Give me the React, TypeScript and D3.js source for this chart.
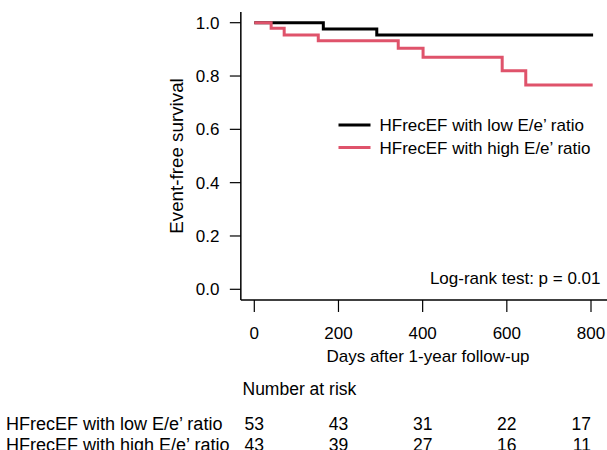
import React from "react";
import * as d3 from "d3";

const lowTimes = [0, 164, 291];
const lowSurv = [1, 0.976, 0.954];
const lowEnd = 805;
const highTimes = [0, 40, 71, 152, 342, 401, 589, 645];
const highSurv = [1, 0.979, 0.954, 0.932, 0.904, 0.87, 0.82, 0.766];
const highEnd = 804;

const xTicks = [0, 200, 400, 600, 800];
const yTicks = [0, 0.2, 0.4, 0.6, 0.8, 1.0];
const seriesNames = ["HFrecEF with low E/e\u2019 ratio", "HFrecEF with high E/e\u2019 ratio"];
const riskLow = [53, 43, 31, 22, 17];
const riskHigh = [43, 39, 27, 16, 11];
const colors = ["#000000", "#DF536B"];

const FONT = "'Liberation Sans', Arial, Helvetica, sans-serif";

export default function App() {
  const x = d3.scaleLinear().domain([0, 800]).range([254.3, 591]);
  const y = d3.scaleLinear().domain([0, 1]).range([289.3, 22.7]);
  const line = d3
    .line<[number, number]>()
    .x((d) => x(d[0]))
    .y((d) => y(d[1]))
    .curve(d3.curveStepAfter);

  const mk = (t: number[], s: number[], end: number): [number, number][] => {
    const pts: [number, number][] = t.map((v, i) => [v, s[i]]);
    pts.push([end, s[s.length - 1]]);
    return pts;
  };
  const curves = [mk(lowTimes, lowSurv, lowEnd), mk(highTimes, highSurv, highEnd)];
  const risks = [riskLow, riskHigh];

  const xAxisY = y(-0.04);
  const yAxisX = x(-32);

  return (
    <svg
      width={607}
      height={450}
      style={{ position: "absolute", left: 0, top: 0, background: "#fff" }}
      fontFamily={FONT}
    >
      <rect width={607} height={450} fill="#fff" />
      {/* axes lines */}
      <line x1={yAxisX} x2={yAxisX} y1={y(1.04)} y2={xAxisY} stroke="#000" strokeWidth={1.5} />
      <line x1={yAxisX} x2={607} y1={xAxisY} y2={xAxisY} stroke="#000" strokeWidth={1.5} />
      {yTicks.map((t) => (
        <g key={"y" + t}>
          <line x1={yAxisX - 11} x2={yAxisX} y1={y(t)} y2={y(t)} stroke="#000" strokeWidth={1.2} />
          <text x={219.5} y={y(t) + 6} textAnchor="end" fontSize={17}>
            {t.toFixed(1)}
          </text>
        </g>
      ))}
      {xTicks.map((t) => (
        <g key={"x" + t}>
          <line x1={x(t)} x2={x(t)} y1={xAxisY} y2={xAxisY + 12} stroke="#000" strokeWidth={1.2} />
          <text x={x(t)} y={339} textAnchor="middle" fontSize={17}>
            {t}
          </text>
        </g>
      ))}
      <text x={428} y={362} textAnchor="middle" fontSize={17}>
        Days after 1-year follow-up
      </text>
      <text
        transform={`translate(183,${(y(0) + y(1)) / 2}) rotate(-90)`}
        textAnchor="middle"
        fontSize={18.8}
      >
        Event-free survival
      </text>
      {/* curves */}
      {curves.map((c, i) => (
        <path key={"c" + i} d={line(c) || ""} fill="none" stroke={colors[i]} strokeWidth={3} />
      ))}
      {/* legend */}
      {seriesNames.map((n, i) => (
        <g key={"l" + i}>
          <line x1={338.5} x2={370.5} y1={125 + i * 22.5} y2={125 + i * 22.5} stroke={colors[i]} strokeWidth={3} />
          <text x={379.5} y={131 + i * 22.5} fontSize={17}>
            {n}
          </text>
        </g>
      ))}
      <text x={600.5} y={284} textAnchor="end" fontSize={17}>
        Log-rank test: p = 0.01
      </text>
      {/* risk table */}
      <text x={242.5} y={395} fontSize={17.5}>
        Number at risk
      </text>
      {seriesNames.map((n, i) => (
        <g key={"r" + i}>
          <text x={6} y={430 + i * 20.5} fontSize={18}>
            {n}
          </text>
          {risks[i].map((v, j) => (
            <text
              key={j}
              x={x(xTicks[j])}
              y={430 + i * 20.5}
              textAnchor={j === xTicks.length - 1 ? "end" : "middle"}
              fontSize={17.5}
            >
              {v}
            </text>
          ))}
        </g>
      ))}
    </svg>
  );
}
